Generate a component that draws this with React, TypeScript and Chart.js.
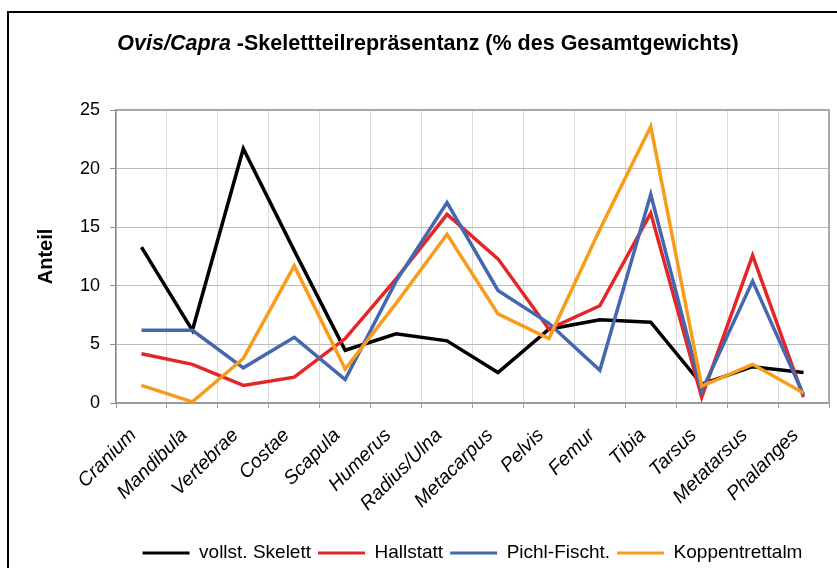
import React, { useEffect, useRef } from "react";
import { Chart, registerables } from "chart.js";

Chart.register(...registerables);

const FONT = "'Liberation Sans', Arial, Helvetica, sans-serif";

const categories = [
  "Cranium", "Mandibula", "Vertebrae", "Costae", "Scapula", "Humerus", "Radius/Ulna",
  "Metacarpus", "Pelvis", "Femur", "Tibia", "Tarsus", "Metatarsus", "Phalanges",
];
const vollstSkelett = [13.3, 6.2, 21.7, 13.0, 4.5, 5.9, 5.3, 2.6, 6.3, 7.1, 6.9, 1.6, 3.1, 2.6];
const hallstatt = [4.2, 3.3, 1.5, 2.2, 5.5, 10.6, 16.1, 12.3, 6.3, 8.3, 16.2, 0.5, 12.6, 0.5];
const pichlFischt = [6.2, 6.2, 3.0, 5.6, 2.0, 10.4, 17.1, 9.6, 6.8, 2.8, 17.8, 1.0, 10.4, 0.7];
const koppentrettalm = [1.5, 0.1, 3.8, 11.7, 2.9, 8.5, 14.4, 7.6, 5.5, 14.8, 23.6, 1.45, 3.3, 0.85];
const yTicks = [0, 5, 10, 15, 20, 25];

const seriesNames = ["vollst. Skelett", "Hallstatt", "Pichl-Fischt.", "Koppentrettalm"];
const seriesColors = ["#000000", "#e42628", "#4467b0", "#f89c1c"];
const seriesValues = [vollstSkelett, hallstatt, pichlFischt, koppentrettalm];

const titleItalic = "Ovis/Capra";
const titleRest = " -Skelettteilrepräsentanz (% des Gesamtgewichts)";
const yTitle = "Anteil";

const decorPlugin = {
  id: "decor",
  beforeDraw(chart: any) {
    const ctx = chart.ctx as CanvasRenderingContext2D;
    ctx.save();
    ctx.fillStyle = "#ffffff";
    ctx.fillRect(0, 0, chart.width, chart.height);
    ctx.strokeStyle = "#000000";
    ctx.lineWidth = 2;
    ctx.strokeRect(8, 12, 840, 600);

    // title
    const f1 = `italic bold 21.5px ${FONT}`;
    const f2 = `bold 21.5px ${FONT}`;
    ctx.font = f1;
    const w1 = ctx.measureText(titleItalic).width;
    ctx.font = f2;
    const w2 = ctx.measureText(titleRest).width;
    const cx = 428;
    const x0 = cx - (w1 + w2) / 2;
    const y = 50;
    ctx.fillStyle = "#000";
    ctx.textBaseline = "alphabetic";
    ctx.textAlign = "left";
    ctx.font = f1;
    ctx.fillText(titleItalic, x0, y);
    ctx.font = f2;
    ctx.fillText(titleRest, x0 + w1, y);
    ctx.restore();
  },
  beforeDatasetsDraw(chart: any) {
    const ctx = chart.ctx as CanvasRenderingContext2D;
    const { left, top, right, bottom } = chart.chartArea;
    ctx.save();
    ctx.strokeStyle = "#a8a8a8";
    ctx.lineWidth = 2;
    ctx.beginPath();
    ctx.moveTo(left, top);
    ctx.lineTo(right, top);
    ctx.lineTo(right, bottom);
    ctx.stroke();
    ctx.restore();
  },
};

export default function App() {
  const ref = useRef<HTMLCanvasElement | null>(null);

  useEffect(() => {
    if (!ref.current) return;
    Chart.defaults.font.family = FONT;
    const chart = new Chart(ref.current, {
      type: "line",
      data: {
        labels: categories,
        datasets: seriesValues.map((vals, i) => ({
          label: seriesNames[i],
          data: vals,
          borderColor: seriesColors[i],
          backgroundColor: seriesColors[i],
          borderWidth: 3.5,
          pointRadius: 0,
          tension: 0,
          fill: false,
          order: 4 - i,
        })),
      },
      options: {
        animation: false,
        responsive: false,
        maintainAspectRatio: false,
        layout: { padding: { left: 0, right: 8, top: 110, bottom: -4.5 } },
        scales: {
          x: {
            type: "category",
            offset: true,
            grid: {
              offset: true,
              color: "#dadada",
              lineWidth: 1,
              tickLength: 5,
              tickColor: "#a0a0a0",
            },
            border: { color: "#9a9a9a", width: 2 },
            ticks: {
              autoSkip: false,
              maxRotation: 45,
              minRotation: 45,
              color: "#000",
              font: { family: FONT, size: 19.5, style: "italic" },
              padding: 16,
              labelOffset: -8,
            },
            afterFit: (s: any) => {
              s.height = 133.5;
            },
          },
          y: {
            min: 0,
            max: 25,
            afterBuildTicks: (s: any) => {
              s.ticks = yTicks.map((v) => ({ value: v }));
            },
            grid: { color: "#bdbdbd", lineWidth: 1, tickLength: 6, tickColor: "#8a8a8a" },
            border: { color: "#8a8a8a", width: 1.5 },
            ticks: { color: "#000", font: { family: FONT, size: 18 }, padding: 10 },
            title: {
              display: true,
              text: yTitle,
              color: "#000",
              font: { family: FONT, size: 20, weight: "bold" },
              padding: { top: 34, bottom: 0 },
            },
            afterFit: (s: any) => {
              s.width = 116;
            },
          },
        },
        plugins: {
          legend: {
            position: "bottom",
            fullSize: false,
            labels: {
              boxWidth: 47,
              boxHeight: 3,
              padding: 7,
              color: "#000",
              font: { family: FONT, size: 19 },
              sort: (a: any, b: any) => a.datasetIndex - b.datasetIndex,
              generateLabels: (c: any) =>
                (Chart.defaults.plugins.legend.labels.generateLabels as any)(c).map((l: any) => ({
                  ...l,
                  lineWidth: 0,
                })),
            },
          },
          tooltip: { enabled: false },
          title: { display: false },
        },
      } as any,
      plugins: [decorPlugin],
    });
    return () => chart.destroy();
  }, []);

  return (
    <div style={{ position: "fixed", left: 0, top: 0, width: 837, height: 568 }}>
      <canvas ref={ref} width={837} height={568} style={{ display: "block", width: 837, height: 568 }} />
    </div>
  );
}
